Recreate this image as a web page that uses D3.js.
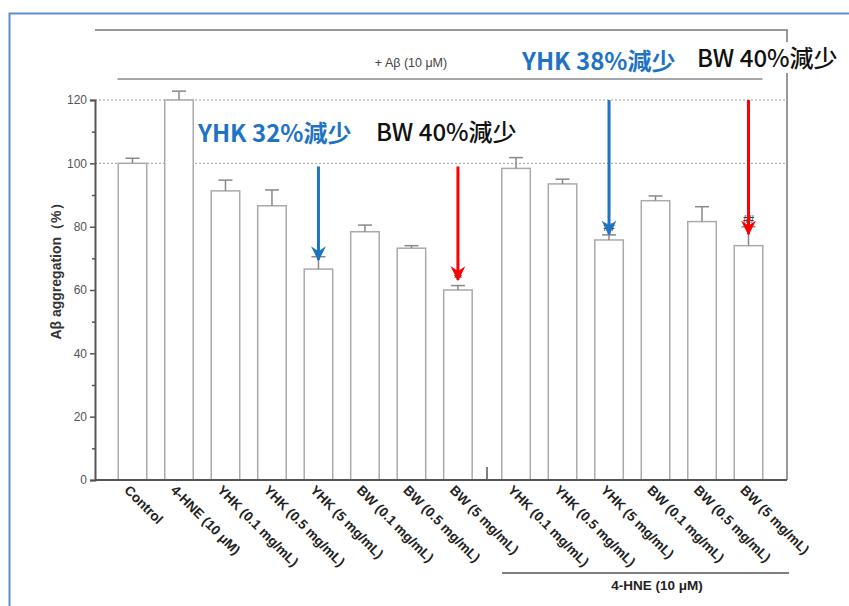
<!DOCTYPE html>
<html>
<head>
<meta charset="utf-8">
<script src="https://cdn.jsdelivr.net/npm/d3@7/dist/d3.min.js"></script>
<style>
  html, body { margin: 0; padding: 0; background: #fff; }
  svg { display: block; }
</style>
</head>
<body>
<svg id="chart" width="849" height="606"></svg>
<script>
// Aβ aggregation (% of control), mean ± error
const categories = [
  "Control", "4-HNE (10 μM)",
  "YHK (0.1 mg/mL)", "YHK (0.5 mg/mL)", "YHK (5 mg/mL)",
  "BW (0.1 mg/mL)", "BW (0.5 mg/mL)", "BW (5 mg/mL)",
  "YHK (0.1 mg/mL)", "YHK (0.5 mg/mL)", "YHK (5 mg/mL)",
  "BW (0.1 mg/mL)", "BW (0.5 mg/mL)", "BW (5 mg/mL)"
];
const means  = [100, 120, 91.3, 86.6, 66.6, 78.4, 73.2, 60.0, 98.4, 93.5, 75.8, 88.2, 81.6, 74.0];
const errors = [1.6, 2.8, 3.4, 5.0, 3.9, 2.1, 0.8, 1.4, 3.4, 1.5, 1.6, 1.5, 4.7, 6.0];
const significance = ["", "", "", "", "", "", "", "**", "", "", "##", "", "", "##"];
const yTicks = [0, 20, 40, 60, 80, 100, 120];
const yMinorTicks = [10, 30, 50, 70, 90, 110];
const gridValues = [100, 120];

// reduction callouts: text, bar index, arrow from / to (in % units)
const calloutText  = ["YHK 32%減少", "BW 40%減少", "YHK 38%減少", "BW 40%減少"];
const calloutBar   = [4, 7, 10, 13];
const arrowFrom    = [99, 99, 120, 120];
const arrowTo      = [69.5, 63.2, 77.6, 77.6];

const groupLabelTop = "+ Aβ (10 μM)";
const groupLabelBottom = "4-HNE (10 μM)";
const yTitle = "Aβ aggregation（%）";

const svg = d3.select("#chart");
const plot = { left: 95, right: 787, top: 30, bottom: 480 };
const secondGroupStart = 8;
const gapSlots = 0.25;
const slot = i => i + (i >= secondGroupStart ? gapSlots : 0);

const x = d3.scaleLinear().domain([0, slot(categories.length - 1)]).range([132.5, 748.5]);
const y = d3.scaleLinear().domain([0, 120]).range([plot.bottom, 100]);
const barW = 28.5;
const blue = "#1f73c4", red = "#ff0000";
const sans = "Liberation Sans, Arial, sans-serif";

// outer frame
svg.append("path")
  .attr("d", `M9.5,612 L9.5,13.5 L860,13.5`)
  .attr("fill", "none").attr("stroke", "#5b8ed6").attr("stroke-width", 2);

// plot frame (top and right)
svg.append("path")
  .attr("d", `M${plot.left},${plot.top} L${plot.right},${plot.top} L${plot.right},${plot.bottom}`)
  .attr("fill", "none").attr("stroke", "#777").attr("stroke-width", 1.5);

// dotted reference lines
svg.selectAll("line.grid").data(gridValues).join("line")
  .attr("class", "grid")
  .attr("x1", plot.left).attr("x2", plot.right)
  .attr("y1", d => y(d)).attr("y2", d => y(d))
  .attr("stroke", "#999").attr("stroke-width", 1).attr("stroke-dasharray", "2,2");

// bars
svg.selectAll("rect.bar").data(means).join("rect")
  .attr("class", "bar")
  .attr("x", (d, i) => x(slot(i)) - barW / 2)
  .attr("width", barW)
  .attr("y", d => y(d))
  .attr("height", d => y(0) - y(d))
  .attr("fill", "#fff").attr("stroke", "#aaa").attr("stroke-width", 1.5);

// error bars
const eb = svg.append("g").attr("stroke", "#888").attr("stroke-width", 1.5);
means.forEach((m, i) => {
  const cx = x(slot(i));
  eb.append("line").attr("x1", cx).attr("x2", cx).attr("y1", y(m)).attr("y2", y(m + errors[i]));
  eb.append("line").attr("x1", cx - 7).attr("x2", cx + 7).attr("y1", y(m + errors[i])).attr("y2", y(m + errors[i]));
});

// significance marks
svg.selectAll("text.sig").data(significance).join("text")
  .attr("class", "sig")
  .attr("x", (d, i) => x(slot(i)))
  .attr("y", (d, i) => y(means[i] + errors[i]) - 4)
  .attr("text-anchor", "middle")
  .attr("font-family", sans)
  .attr("font-size", 10).attr("font-weight", "bold").attr("fill", "#444")
  .text(d => d);

// y axis
const yAxis = svg.append("g").attr("transform", `translate(${plot.left},0)`)
  .call(d3.axisLeft(y).tickValues(yTicks).tickSize(5).tickPadding(3));
svg.append("g").attr("transform", `translate(${plot.left},0)`)
  .call(d3.axisLeft(y).tickValues(yMinorTicks).tickSize(3).tickFormat(""))
  .call(g => g.select(".domain").remove());
svg.selectAll(".tick line").attr("stroke", "#555").attr("stroke-width", 1.5);
yAxis.select(".domain").attr("stroke", "#555").attr("stroke-width", 2);
yAxis.selectAll(".tick text")
  .attr("font-family", sans)
  .attr("font-size", 12).attr("fill", "#555");

// x baseline
svg.append("line")
  .attr("x1", plot.left).attr("x2", plot.right)
  .attr("y1", y(0)).attr("y2", y(0))
  .attr("stroke", "#555").attr("stroke-width", 2);
// separator tick between the two groups
const sepX = (x(slot(secondGroupStart - 1)) + x(slot(secondGroupStart))) / 2;
svg.append("line")
  .attr("x1", sepX).attr("x2", sepX).attr("y1", y(0) - 13).attr("y2", y(0))
  .attr("stroke", "#555").attr("stroke-width", 1.5);

// category labels
svg.selectAll("text.cat").data(categories).join("text")
  .attr("class", "cat")
  .attr("transform", (d, i) => `translate(${x(slot(i)) - 9},${y(0) + 11}) rotate(45)`)
  .attr("font-family", sans)
  .attr("font-size", 13.5).attr("font-weight", "bold").attr("fill", "#222")
  .text(d => d);

// y title
svg.append("text")
  .attr("transform", `translate(61,268) rotate(-90)`)
  .attr("text-anchor", "middle")
  .attr("font-family", sans)
  .attr("font-size", 14).attr("font-weight", "bold").attr("fill", "#333")
  .text(yTitle);

// treatment bracket labels
svg.append("line")
  .attr("x1", x(0) - 15).attr("x2", x(slot(13)) + 14).attr("y1", 79).attr("y2", 79)
  .attr("stroke", "#888").attr("stroke-width", 1.5);
svg.append("text")
  .attr("x", 411).attr("y", 67).attr("text-anchor", "middle")
  .attr("font-family", sans)
  .attr("font-size", 12.5).attr("fill", "#444")
  .text(groupLabelTop);

svg.append("line")
  .attr("x1", x(slot(secondGroupStart)) - 14).attr("x2", plot.right + 2).attr("y1", 573).attr("y2", 573)
  .attr("stroke", "#555").attr("stroke-width", 1.5);
svg.append("text")
  .attr("x", 657).attr("y", 590).attr("text-anchor", "middle")
  .attr("font-family", sans)
  .attr("font-size", 13.5).attr("font-weight", "bold").attr("fill", "#222")
  .text(groupLabelBottom);

// arrowheads
const defs = svg.append("defs");
[["blueHead", blue], ["redHead", red]].forEach(([id, c]) => {
  defs.append("marker")
    .attr("id", id).attr("viewBox", "0 0 12 12")
    .attr("refX", 11).attr("refY", 6)
    .attr("markerWidth", 15).attr("markerHeight", 15)
    .attr("markerUnits", "userSpaceOnUse")
    .attr("orient", "auto")
    .append("path").attr("d", "M0,0 L12,6 L0,12 L4,6 Z").attr("fill", c);
});

calloutBar.forEach((b, k) => {
  const cx = x(slot(b));
  const isBlue = calloutText[k].startsWith("YHK");
  svg.append("line")
    .attr("x1", cx).attr("x2", cx)
    .attr("y1", y(arrowFrom[k])).attr("y2", y(arrowTo[k]))
    .attr("stroke", isBlue ? blue : red).attr("stroke-width", 3)
    .attr("marker-end", `url(#${isBlue ? "blueHead" : "redHead"})`);
});

// callout texts
const calloutPos = [[198, 142], [376, 141], [522, 70], [697, 67]];
calloutText.forEach((t, k) => {
  const isBlue = t.startsWith("YHK");
  const g = svg.append("g");
  const txt = g.append("text")
    .attr("x", calloutPos[k][0]).attr("y", calloutPos[k][1])
    .attr("font-family", "Noto Sans CJK SC, Noto Sans, sans-serif")
    .attr("font-size", 24).attr("font-weight", isBlue ? "bold" : "500")
    .attr("fill", isBlue ? blue : "#111")
    .text(t);
  if (k === 3) {
    const bb = txt.node().getBBox();
    g.insert("rect", "text")
      .attr("x", bb.x - 2).attr("y", bb.y + 3)
      .attr("width", bb.width + 4).attr("height", bb.height - 4)
      .attr("fill", "#fff");
  }
});
</script>
</body>
</html>
